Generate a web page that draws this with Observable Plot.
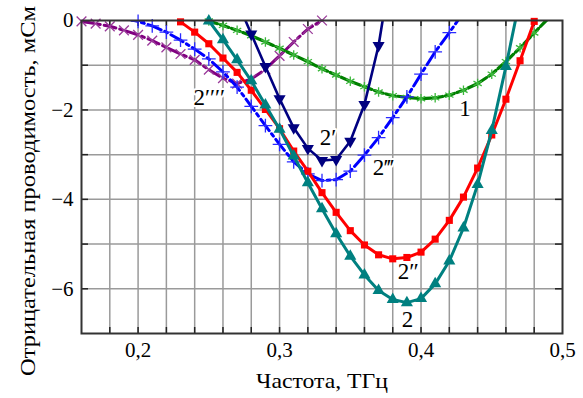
<!DOCTYPE html>
<html><head><meta charset="utf-8">
<script src="https://cdn.jsdelivr.net/npm/d3@7"></script>
<script src="https://cdn.jsdelivr.net/npm/@observablehq/plot@0.6"></script>
<style>body{margin:0;background:#fff;} svg{display:block;}</style>
</head><body><div id="chart"></div>
<script>
// Frequency, THz  /  negative conductance, mS
const curve1X = [0.25,0.26,0.27,0.28,0.29,0.30,0.31,0.32,0.33,0.34,0.35,0.36,0.37,0.38,0.39,0.40,0.41,0.42,0.43,0.44,0.45,0.46,0.47,0.48,0.49];
const curve1Y = [-0.01,-0.11,-0.22,-0.34,-0.48,-0.62,-0.77,-0.92,-1.08,-1.22,-1.36,-1.48,-1.60,-1.68,-1.72,-1.75,-1.73,-1.67,-1.56,-1.41,-1.20,-0.92,-0.61,-0.28,0.05];

const curve2X = [0.25,0.26,0.27,0.28,0.29,0.30,0.31,0.32,0.33,0.34,0.35,0.36,0.37,0.38,0.39,0.40,0.41,0.42,0.43,0.44,0.45,0.46,0.47];
const curve2Y = [-0.01,-0.43,-0.88,-1.35,-1.89,-2.43,-3.03,-3.63,-4.21,-4.77,-5.27,-5.69,-6.04,-6.24,-6.31,-6.22,-5.89,-5.38,-4.64,-3.67,-2.46,-1.03,0.5];

const curve2aX = [0.27,0.28,0.29,0.30,0.31,0.32,0.33,0.34,0.35,0.36,0.37,0.38];
const curve2aY = [0.43,-0.30,-1.03,-1.75,-2.40,-2.86,-3.13,-3.11,-2.70,-1.88,-0.56,1.4];

const curve2bX = [0.22,0.23,0.24,0.25,0.26,0.27,0.28,0.29,0.30,0.31,0.32,0.33,0.34,0.35,0.36,0.37,0.38,0.39,0.40,0.41,0.42,0.43,0.44,0.45,0.46,0.47,0.48,0.49];
const curve2bY = [0.25,-0.03,-0.26,-0.52,-0.84,-1.16,-1.56,-1.99,-2.42,-2.92,-3.37,-3.85,-4.29,-4.70,-5.02,-5.24,-5.33,-5.30,-5.18,-4.89,-4.47,-3.95,-3.30,-2.56,-1.76,-0.90,-0.02,0.9];

const curve2cX = [0.19,0.20,0.21,0.22,0.23,0.24,0.25,0.26,0.27,0.28,0.29,0.30,0.31,0.32,0.33,0.34,0.35,0.36,0.37,0.38,0.39,0.40,0.41,0.42,0.43];
const curve2cY = [0.05,-0.02,-0.12,-0.26,-0.44,-0.64,-0.86,-1.15,-1.49,-1.92,-2.35,-2.77,-3.16,-3.43,-3.58,-3.56,-3.37,-3.01,-2.62,-2.17,-1.71,-1.20,-0.70,-0.27,0.18];

const curve2dX = [0.16,0.17,0.18,0.19,0.20,0.21,0.22,0.23,0.24,0.25,0.26,0.27,0.28,0.29,0.30,0.31,0.32,0.33];
const curve2dY = [-0.02,-0.07,-0.13,-0.22,-0.32,-0.45,-0.60,-0.75,-0.88,-1.10,-1.29,-1.41,-1.31,-1.09,-0.79,-0.48,-0.19,0.0];

const labelTexts = ["1", "2", "2′", "2″", "2‴", "2′′′′"];
const labelX = [0.431, 0.3905, 0.3343, 0.391, 0.3733, 0.2503];
const labelY = [-1.98, -6.70, -2.62, -5.62, -3.30, -1.72];

const xTicks = [0.2, 0.3, 0.4, 0.5];
const yTicks = [0, -2, -4, -6];
const xGrid = [0.18,0.20,0.22,0.24,0.26,0.28,0.30,0.32,0.34,0.36,0.38,0.40,0.42,0.44,0.46,0.48];
const yGrid = [-1,-2,-3,-4,-5,-6];

const xTitle = "Частота, ТГц";
const yTitle = "Отрицательная проводимость, мСм";

const rows = (xs, ys) => xs.map((x, i) => ({x, y: ys[i]}));
const s1 = rows(curve1X, curve1Y), s2 = rows(curve2X, curve2Y), s2a = rows(curve2aX, curve2aY),
      s2b = rows(curve2bX, curve2bY), s2c = rows(curve2cX, curve2cY), s2d = rows(curve2dX, curve2dY);
const inside = d => d.y <= 0.001;
const labels = labelTexts.map((t, i) => ({t, x: labelX[i], y: labelY[i]}));

const fmtX = d => d.toFixed(1).replace(".", ",");
const fmtY = d => d === 0 ? "0" : String(d).replace("-", "\u2212");
const serif = "Liberation Serif, DejaVu Serif, serif";

const chart = Plot.plot({
  width: 583, height: 398,
  marginLeft: 81, marginRight: 21, marginTop: 20, marginBottom: 65,
  style: {fontFamily: serif, fontSize: "21px", background: "#fff", color: "#000"},
  x: {domain: [0.16, 0.5]},
  y: {domain: [-7, 0]},
  marks: [
    Plot.ruleX(xGrid, {stroke: "#9a9a9a", strokeWidth: 1.5}),
    Plot.ruleY(yGrid, {stroke: "#9a9a9a", strokeWidth: 1.5}),
    Plot.tickX(xGrid, {insetTop: 307, stroke: "#222", strokeWidth: 1.5}),
    Plot.tickX(xGrid, {insetBottom: 307, stroke: "#222", strokeWidth: 1.5}),
    Plot.tickY(yGrid, {insetRight: 474, stroke: "#222", strokeWidth: 1.5}),
    Plot.tickY(yGrid, {insetLeft: 474, stroke: "#222", strokeWidth: 1.5}),
    // 2''''
    Plot.line(s2d, {x: "x", y: "y", stroke: "#800080", strokeWidth: 3, strokeDasharray: "12,4,3,4", clip: true}),
    Plot.dot(s2d, {x: "x", y: "y", symbol: "times", stroke: "#9a3a9a", strokeWidth: 1.3, r: 4.5, filter: inside}),
    // 1
    Plot.line(s1, {x: "x", y: "y", stroke: "#008000", strokeWidth: 3.2, strokeDasharray: "9,3", clip: true}),
    Plot.dot(s1, {x: "x", y: "y", symbol: "asterisk", stroke: "#3cb83c", strokeWidth: 1.3, r: 4.5, filter: inside}),
    // 2'''
    Plot.line(s2c, {x: "x", y: "y", stroke: "#0000ff", strokeWidth: 3, strokeDasharray: "14,4,3,4", clip: true}),
    Plot.dot(s2c, {x: "x", y: "y", symbol: "plus", stroke: "#2a2aff", strokeWidth: 1.3, r: 4.5, filter: inside}),
    // 2''
    Plot.line(s2b, {x: "x", y: "y", stroke: "#ff0000", strokeWidth: 3, clip: true}),
    Plot.dot(s2b, {x: "x", y: "y", symbol: "square", fill: "#ff0000", r: 4, filter: inside}),
    // 2
    Plot.line(s2, {x: "x", y: "y", stroke: "#008080", strokeWidth: 3, clip: true}),
    Plot.dot(s2, {x: "x", y: "y", symbol: "triangle", fill: "#008080", r: 4.5, filter: inside}),
    // 2'
    Plot.line(s2a, {x: "x", y: "y", stroke: "#000080", strokeWidth: 2.6, clip: true}),
    Plot.dot(s2a, {x: "x", y: "y", symbol: "triangle", rotate: 180, fill: "#000080", r: 4.5, filter: inside}),
    Plot.text(labels, {x: "x", y: "y", text: "t", fontSize: 23, fontFamily: serif, fill: "#000", stroke: "#fff", strokeWidth: 4}),
    Plot.frame({stroke: "#333", strokeWidth: 2}),
    Plot.axisX(xTicks, {tickSize: 0, tickPadding: 9, tickFormat: fmtX, label: null, fontSize: 21, fontFamily: serif}),
    Plot.axisY(yTicks, {tickSize: 0, tickPadding: 8, tickFormat: fmtY, label: null, fontSize: 21, fontFamily: serif}),
    Plot.text([xTitle], {frameAnchor: "bottom", dy: 47, lineAnchor: "middle", textAnchor: "middle", fontSize: 22, fontFamily: serif, fill: "#000"}),
    Plot.text([yTitle], {frameAnchor: "left", dx: -54, dy: 14, rotate: -90, lineAnchor: "middle", textAnchor: "middle", fontSize: 22, fontFamily: serif, fill: "#000"})
  ]
});
d3.select(chart).selectAll("text").filter(function () { return this.textContent === yTitle; })
  .attr("textLength", 370).attr("lengthAdjust", "spacingAndGlyphs");
d3.select(chart).selectAll("text").filter(function () { return this.textContent === xTitle; })
  .attr("textLength", 132).attr("lengthAdjust", "spacingAndGlyphs");
document.getElementById("chart").appendChild(chart);
</script>
</body></html>
